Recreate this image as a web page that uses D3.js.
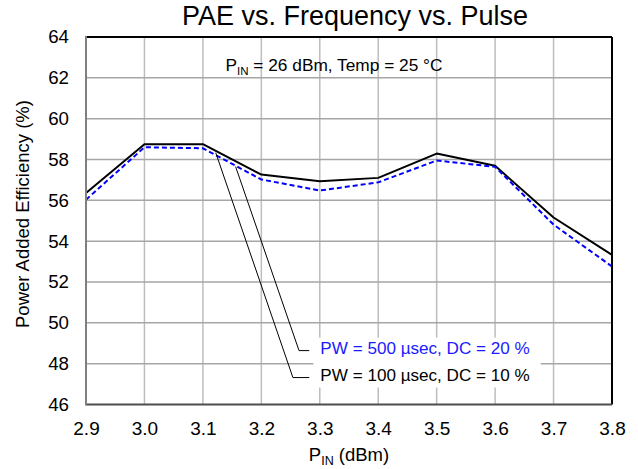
<!DOCTYPE html>
<html><head><meta charset="utf-8">
<script src="https://cdn.jsdelivr.net/npm/d3@7/dist/d3.min.js"></script>
<style>
html,body{margin:0;padding:0;background:#fff;}
text{font-family:"Liberation Sans",Arial,sans-serif;}
</style></head>
<body>
<svg id="chart" width="638" height="469"></svg>
<script>
const freq = [2.9, 3.0, 3.1, 3.2, 3.3, 3.4, 3.5, 3.6, 3.7, 3.8];
const pae100 = [56.36, 58.75, 58.75, 57.26, 56.93, 57.10, 58.29, 57.69, 55.16, 53.33];
const pae500 = [56.03, 58.60, 58.55, 57.02, 56.48, 56.88, 57.95, 57.64, 54.81, 52.76];
const xTicks = [2.9, 3.0, 3.1, 3.2, 3.3, 3.4, 3.5, 3.6, 3.7, 3.8];
const yTicks = [46, 48, 50, 52, 54, 56, 58, 60, 62, 64];
const label500 = "PW = 500 µsec, DC = 20 %";
const label100 = "PW = 100 µsec, DC = 10 %";
// leader lines in data units: anchor, elbow, end
const leader500 = [[3.156, 57.65], [3.2645, 48.64], [3.282, 48.64]];
const leader100 = [[3.122, 58.33], [3.254, 47.32], [3.282, 47.32]];

const svg = d3.select("#chart");
const L = 86, R = 612, T = 37, B = 404.5;
const x = d3.scaleLinear().domain([2.9, 3.8]).range([L, R]);
const y = d3.scaleLinear().domain([46, 64]).range([B, T]);

// grid
svg.append("g").selectAll("line").data(xTicks.slice(1, -1)).join("line")
  .attr("x1", d => x(d)).attr("x2", d => x(d)).attr("y1", T).attr("y2", B)
  .attr("stroke", "#bdbdbd").attr("stroke-width", 1.5);
svg.append("g").selectAll("line").data(yTicks.slice(1, -1)).join("line")
  .attr("x1", L).attr("x2", R).attr("y1", d => y(d)).attr("y2", d => y(d))
  .attr("stroke", "#a6a6a6").attr("stroke-width", 1.5);

// axes (labels)
const xAxis = d3.axisBottom(x).tickValues(xTicks).tickFormat(d3.format(".1f")).tickSize(0).tickPadding(17);
const gx = svg.append("g").attr("transform", `translate(0,${B})`).call(xAxis);
gx.select(".domain").remove();
gx.selectAll("text").attr("font-size", 19).attr("fill", "#000").attr("font-family", "Liberation Sans, Arial, sans-serif");
const yAxis = d3.axisLeft(y).tickValues(yTicks).tickSize(0).tickPadding(17);
const gy = svg.append("g").attr("transform", `translate(${L},0)`).call(yAxis);
gy.select(".domain").remove();
gy.selectAll("text").attr("font-size", 18.7).attr("fill", "#000").attr("font-family", "Liberation Sans, Arial, sans-serif");

// annotation box
const annG = svg.append("g");
const line = d3.line().x(d => x(d[0])).y(d => y(d[1]));

// series lines
svg.append("path").datum(freq.map((f, i) => [f, pae100[i]])).attr("d", line)
  .attr("fill", "none").attr("stroke", "#000").attr("stroke-width", 2).attr("stroke-linejoin", "round");
svg.append("path").datum(freq.map((f, i) => [f, pae500[i]])).attr("d", line)
  .attr("fill", "none").attr("stroke", "#0000ff").attr("stroke-width", 2).attr("stroke-dasharray", "5,3");

// leaders
svg.append("path").datum(leader100).attr("d", line).attr("fill", "none").attr("stroke", "#000").attr("stroke-width", 1);
svg.append("path").datum(leader500).attr("d", line).attr("fill", "none").attr("stroke", "#000").attr("stroke-width", 1);

const t500 = svg.append("text").attr("x", x(3.301)).attr("y", y(48.64) + 3).attr("font-size", 17.1).attr("fill", "#1a1aff").text(label500);
const t100 = svg.append("text").attr("x", x(3.301)).attr("y", y(47.32) + 3).attr("font-size", 17.1).attr("fill", "#000").text(label100);
const b1 = t500.node().getBBox(), b2 = t100.node().getBBox();
annG.append("rect").attr("x", b1.x - 7).attr("y", b1.y - 1).attr("width", Math.max(b1.width, b2.width) + 18)
  .attr("height", (b2.y + b2.height) - b1.y + 4).attr("fill", "#fff");

// borders
svg.append("line").attr("x1", L).attr("x2", R).attr("y1", T).attr("y2", T).attr("stroke", "#000").attr("stroke-width", 2);
svg.append("line").attr("x1", R).attr("x2", R).attr("y1", T).attr("y2", B).attr("stroke", "#000").attr("stroke-width", 2);
svg.append("line").attr("x1", L).attr("x2", R).attr("y1", B).attr("y2", B).attr("stroke", "#4d4d4d").attr("stroke-width", 2);
svg.append("line").attr("x1", L).attr("x2", L).attr("y1", T - 1).attr("y2", B + 1).attr("stroke", "#808080").attr("stroke-width", 2);

// titles
svg.append("text").attr("x", 355).attr("y", 25).attr("text-anchor", "middle").attr("font-size", 27).text("PAE vs. Frequency vs. Pulse");
const st = svg.append("text").attr("x", 334).attr("y", 70.7).attr("text-anchor", "middle").attr("font-size", 17.3);
st.append("tspan").text("P");
st.append("tspan").attr("font-size", 11.5).attr("dy", 4).text("IN");
st.append("tspan").attr("dy", -4).text(" = 26 dBm, Temp = 25 °C");

const xt = svg.append("text").attr("x", (L + R) / 2).attr("y", 461).attr("text-anchor", "middle").attr("font-size", 18.5);
xt.append("tspan").text("P");
xt.append("tspan").attr("font-size", 12.5).attr("dy", 4).text("IN");
xt.append("tspan").attr("dy", -4).text(" (dBm)");

svg.append("text").attr("transform", "translate(29,214) rotate(-90)").attr("text-anchor", "middle").attr("font-size", 18.5)
  .text("Power Added Efficiency (%)");
</script>
</body></html>
